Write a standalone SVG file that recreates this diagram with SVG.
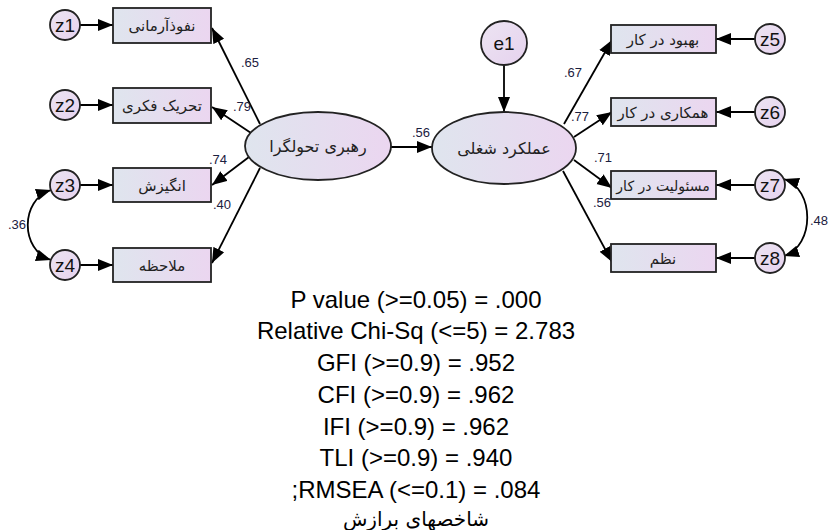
<svg xmlns="http://www.w3.org/2000/svg" width="829" height="530" viewBox="0 0 829 530">
<defs>
<linearGradient id="gb" x1="0" y1="0" x2="1" y2="0">
<stop offset="0" stop-color="#dfe5ee"/>
<stop offset="1" stop-color="#ebd6f0"/>
</linearGradient>
<linearGradient id="gc" x1="0" y1="0" x2="1" y2="1">
<stop offset="0" stop-color="#ece4f2"/>
<stop offset="1" stop-color="#e6d2ee"/>
</linearGradient>
<marker id="ah" markerUnits="userSpaceOnUse" markerWidth="16" markerHeight="13" refX="15" refY="6" orient="auto-start-reverse" viewBox="0 0 16 12">
<path d="M0,0 L15,6 L0,12 z" fill="#000"/>
</marker>
</defs>
<style>
.box{fill:url(#gb);stroke:#222;stroke-width:1.8}
.ell{fill:url(#gb);stroke:#222;stroke-width:1.8}
.cir{fill:url(#gc);stroke:#222;stroke-width:1.8}
.fa{font-family:"DejaVu Sans","Noto Sans",sans-serif;font-size:15px;fill:#222;text-anchor:middle}
.fe{font-family:"DejaVu Sans","Noto Sans",sans-serif;font-size:16px;fill:#222;text-anchor:middle}
.z{font-family:"Liberation Sans",Arial,sans-serif;font-size:19px;fill:#111;text-anchor:middle}
.c{font-family:"Liberation Sans",Arial,sans-serif;font-size:13px;fill:#1b2040;text-anchor:middle}
.fit{font-family:"Liberation Sans",Arial,sans-serif;font-size:24px;fill:#000;text-anchor:middle}
.con{fill:none;stroke:#000;stroke-width:1.8}
</style>
<rect width="829" height="530" fill="#fff"/>

<g id="connectors">
<line class="con" x1="80" y1="25" x2="113" y2="25" marker-end="url(#ah)"/>
<line class="con" x1="80" y1="105" x2="113" y2="105" marker-end="url(#ah)"/>
<line class="con" x1="80" y1="185" x2="113" y2="185" marker-end="url(#ah)"/>
<line class="con" x1="80" y1="265" x2="113" y2="265" marker-end="url(#ah)"/>
<line class="con" x1="755" y1="39" x2="716" y2="39" marker-end="url(#ah)"/>
<line class="con" x1="755" y1="112" x2="716" y2="112" marker-end="url(#ah)"/>
<line class="con" x1="755" y1="185" x2="716" y2="185" marker-end="url(#ah)"/>
<line class="con" x1="755" y1="258" x2="716" y2="258" marker-end="url(#ah)"/>
<line class="con" x1="260" y1="124" x2="212" y2="28" marker-end="url(#ah)"/>
<line class="con" x1="251" y1="133" x2="212" y2="107" marker-end="url(#ah)"/>
<line class="con" x1="249" y1="157" x2="212" y2="185" marker-end="url(#ah)"/>
<line class="con" x1="260" y1="168" x2="212" y2="263" marker-end="url(#ah)"/>
<line class="con" x1="564" y1="124" x2="612" y2="40" marker-end="url(#ah)"/>
<line class="con" x1="574" y1="137" x2="612" y2="112" marker-end="url(#ah)"/>
<line class="con" x1="574" y1="160" x2="612" y2="188" marker-end="url(#ah)"/>
<line class="con" x1="563" y1="171" x2="612" y2="262" marker-end="url(#ah)"/>
<line class="con" x1="391" y1="147" x2="432" y2="147" marker-end="url(#ah)"/>
<line class="con" x1="504" y1="65" x2="504" y2="112" marker-end="url(#ah)"/>
<path class="con" d="M51,190 C20,200 20,250 51,260" marker-start="url(#ah)" marker-end="url(#ah)"/>
<path class="con" d="M784,179 C815,189 815,246 784,256" marker-start="url(#ah)" marker-end="url(#ah)"/>
<text class="c" x="250" y="67">.65</text>
<text class="c" x="242" y="111">.79</text>
<text class="c" x="218" y="164">.74</text>
<text class="c" x="222" y="209">.40</text>
<text class="c" x="421" y="137">.56</text>
<text class="c" x="573" y="77">.67</text>
<text class="c" x="580" y="121">.77</text>
<text class="c" x="603" y="162">.71</text>
<text class="c" x="602" y="207">.56</text>
<text class="c" x="17" y="229">.36</text>
<text class="c" x="828" y="225" style="text-anchor:end">.48</text>
</g>

<g id="z1"><circle class="cir" cx="65" cy="25" r="15"/><text class="z" x="65" y="32">z1</text></g>
<g id="z2"><circle class="cir" cx="65" cy="105" r="15"/><text class="z" x="65" y="112">z2</text></g>
<g id="z3"><circle class="cir" cx="65" cy="185" r="15"/><text class="z" x="65" y="192">z3</text></g>
<g id="z4"><circle class="cir" cx="65" cy="265" r="15"/><text class="z" x="65" y="272">z4</text></g>
<g id="z5"><circle class="cir" cx="770" cy="39" r="15"/><text class="z" x="770" y="46">z5</text></g>
<g id="z6"><circle class="cir" cx="770" cy="112" r="15"/><text class="z" x="770" y="119">z6</text></g>
<g id="z7"><circle class="cir" cx="770" cy="185" r="15"/><text class="z" x="770" y="192">z7</text></g>
<g id="z8"><circle class="cir" cx="770" cy="258" r="15"/><text class="z" x="770" y="265">z8</text></g>
<g id="e1"><ellipse class="cir" cx="504" cy="43" rx="23" ry="22"/><text class="z" x="504" y="50">e1</text></g>

<g id="box1"><rect class="box" x="113" y="8" width="98" height="35"/><text class="fa" x="162" y="31">نفوذآرمانی</text></g>
<g id="box2"><rect class="box" x="113" y="88" width="98" height="35"/><text class="fa" x="162" y="111">تحریک فکری</text></g>
<g id="box3"><rect class="box" x="113" y="168" width="98" height="34"/><text class="fa" x="162" y="191">انگیزش</text></g>
<g id="box4"><rect class="box" x="113" y="248" width="98" height="34"/><text class="fa" x="162" y="271">ملاحظه</text></g>
<g id="box5"><rect class="box" x="611" y="25" width="105" height="28"/><text class="fa" x="663" y="45">بهبود در کار</text></g>
<g id="box6"><rect class="box" x="611" y="98" width="105" height="28"/><text class="fa" x="663" y="118">همکاری در کار</text></g>
<g id="box7"><rect class="box" x="611" y="171" width="105" height="28"/><text class="fa" x="663" y="191" style="font-size:14px">مسئولیت در کار</text></g>
<g id="box8"><rect class="box" x="611" y="244" width="105" height="28"/><text class="fa" x="663" y="264">نظم</text></g>

<g id="leadership"><ellipse class="ell" cx="318" cy="146" rx="73" ry="34"/><text class="fe" x="318" y="152">رهبری تحولگرا</text></g>
<g id="performance"><ellipse class="ell" cx="504" cy="148" rx="72" ry="36"/><text class="fe" x="504" y="154">عملکرد شغلی</text></g>

<g id="fit-indices">
<text class="fit" x="416" y="308">P value (&gt;=0.05) = .000</text>
<text class="fit" x="416" y="339">Relative Chi-Sq (&lt;=5) = 2.783</text>
<text class="fit" x="416" y="371">GFI (&gt;=0.9) = .952</text>
<text class="fit" x="416" y="403">CFI (&gt;=0.9) = .962</text>
<text class="fit" x="416" y="435">IFI (&gt;=0.9) = .962</text>
<text class="fit" x="416" y="466">TLI (&gt;=0.9) = .940</text>
<text class="fit" x="416" y="498">;RMSEA (&lt;=0.1) = .084</text>
<text class="fe" x="416" y="526" style="font-size:20px;fill:#000">شاخصهای برازش</text>
</g>
</svg>
